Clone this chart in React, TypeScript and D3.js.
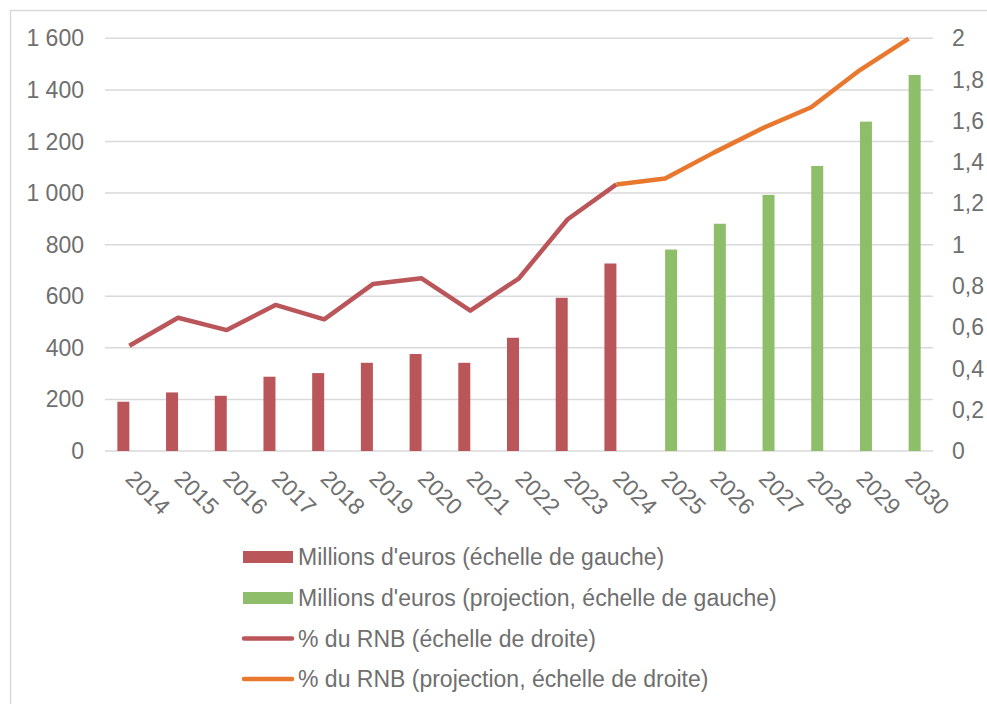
import React from "react";
import * as d3 from "d3";

const years = ["2014","2015","2016","2017","2018","2019","2020","2021","2022","2023","2024","2025","2026","2027","2028","2029","2030"];
const histEuros: (number | null)[] = [191, 227, 214, 288, 302, 342, 376, 342, 439, 594, 727, null, null, null, null, null, null];
const projEuros: (number | null)[] = [null, null, null, null, null, null, null, null, null, null, null, 781, 881, 993, 1105, 1277, 1458];
const histPct: (number | null)[] = [0.51, 0.646, 0.586, 0.708, 0.638, 0.809, 0.837, 0.68, 0.837, 1.123, 1.292, null, null, null, null, null, null];
const projPct: (number | null)[] = [null, null, null, null, null, null, null, null, null, null, 1.292, 1.321, 1.446, 1.564, 1.666, 1.846, 1.998];
const leftTicks = [0, 200, 400, 600, 800, 1000, 1200, 1400, 1600];
const rightTicks = [0, 0.2, 0.4, 0.6, 0.8, 1, 1.2, 1.4, 1.6, 1.8, 2];
const legendLabels = [
  "Millions d'euros (échelle de gauche)",
  "Millions d'euros (projection, échelle de gauche)",
  "% du RNB (échelle de droite)",
  "% du RNB (projection, échelle de droite)",
];

const RED = "#BA5659";
const GREEN = "#8EBE6A";
const ORANGE = "#E9782F";
const GRID = "#D9D9D9";
const TXT = "#6F6F6F";
const FONT = "'Liberation Sans', Arial, sans-serif";

export default function App() {
  const x = d3.scaleBand<string>().domain(years).range([105, 933]).padding(0);
  const yL = d3.scaleLinear().domain([0, 1600]).range([451, 38.3]);
  const yR = d3.scaleLinear().domain([0, 2]).range([451, 38.3]);
  const bw = 12;
  const cx = (y: string) => (x(y) as number) + x.bandwidth() / 2;

  const line = d3
    .line<number | null>()
    .defined((d) => d !== null)
    .x((_, i) => cx(years[i]))
    .y((d) => yR(d as number));

  const fmtL = (v: number) => d3.format(",")(v).replace(/,/g, " ");
  const fmtR = (v: number) => String(v).replace(".", ",");

  const legendY = [557, 598, 638.5, 679];

  return (
    <svg
      width={987}
      height={704}
      style={{ position: "absolute", left: 0, top: 0, background: "#fff" }}
      fontFamily={FONT}
    >
      <rect x={10.5} y={10.5} width={1000} height={800} fill="#fff" stroke={GRID} strokeWidth={1.5} />
      {leftTicks.map((t) => (
        <line key={"g" + t} x1={105} x2={933} y1={yL(t)} y2={yL(t)} stroke={GRID} strokeWidth={1.5} />
      ))}
      {leftTicks.map((t) => (
        <text key={"l" + t} x={84} y={yL(t)} dy="0.35em" textAnchor="end" fontSize={23} fill={TXT}>
          {fmtL(t)}
        </text>
      ))}
      {rightTicks.map((t) => (
        <text key={"r" + t} x={952} y={yR(t)} dy="0.35em" textAnchor="start" fontSize={23} fill={TXT}>
          {fmtR(t)}
        </text>
      ))}
      {histEuros.map((v, i) =>
        v === null ? null : (
          <rect key={"h" + i} x={cx(years[i]) - bw} y={yL(v)} width={bw} height={yL(0) - yL(v)} fill={RED} />
        )
      )}
      {projEuros.map((v, i) =>
        v === null ? null : (
          <rect key={"p" + i} x={cx(years[i])} y={yL(v)} width={bw} height={yL(0) - yL(v)} fill={GREEN} />
        )
      )}
      <path d={line(histPct) || ""} fill="none" stroke={RED} strokeWidth={4.5} strokeLinejoin="round" />
      <path d={line(projPct) || ""} fill="none" stroke={ORANGE} strokeWidth={4.5} strokeLinejoin="round" />
      {years.map((y) => (
        <text
          key={"x" + y}
          transform={`translate(${cx(y) - 5},${480}) rotate(45)`}
          fontSize={23}
          fill={TXT}
        >
          {y}
        </text>
      ))}
      {legendLabels.map((l, i) => (
        <g key={"lg" + i}>
          {i < 2 ? (
            <rect x={243} y={legendY[i] - 6} width={50} height={12} fill={i === 0 ? RED : GREEN} />
          ) : (
            <line x1={244} x2={292} y1={legendY[i]} y2={legendY[i]} stroke={i === 2 ? RED : ORANGE} strokeWidth={4.5} strokeLinecap="round" />
          )}
          <text x={298} y={legendY[i]} dy="0.35em" fontSize={23} fill={TXT}>
            {l}
          </text>
        </g>
      ))}
    </svg>
  );
}
